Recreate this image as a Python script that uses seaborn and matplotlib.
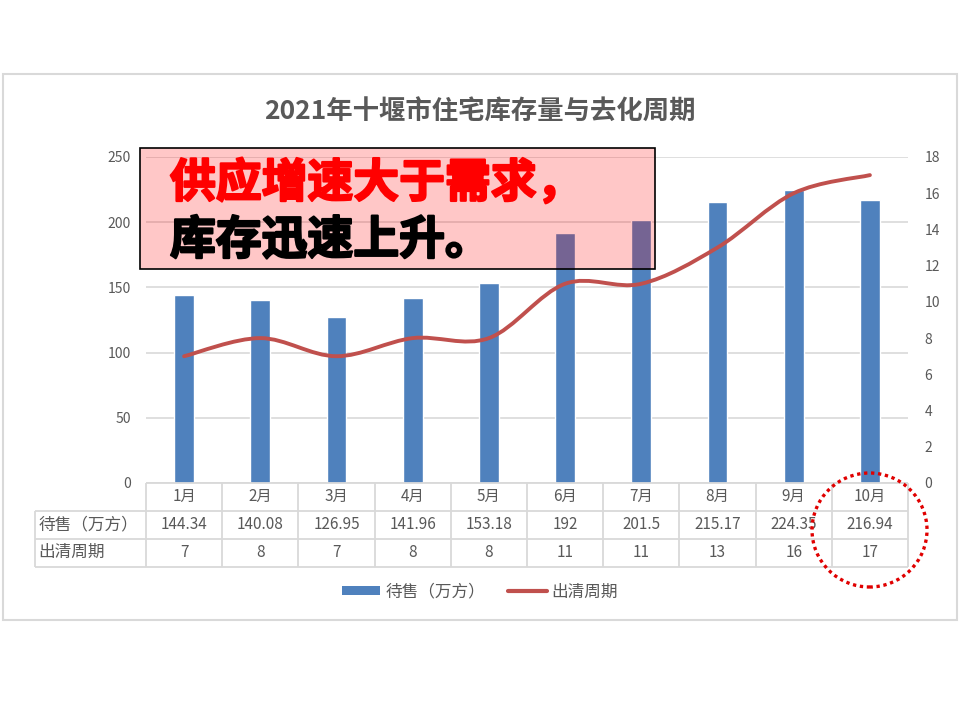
import numpy as np
import pandas as pd
import seaborn as sns
import matplotlib.pyplot as plt
import matplotlib.patheffects as pe
from matplotlib.path import Path
from matplotlib.patches import PathPatch, Patch, Rectangle, Ellipse
from matplotlib.lines import Line2D

sns.set_style("white")
plt.rcParams['font.family'] = ['Noto Sans CJK SC', 'DejaVu Sans']

# data
months = ["1月", "2月", "3月", "4月", "5月", "6月", "7月", "8月", "9月", "10月"]
stock = [144.34, 140.08, 126.95, 141.96, 153.18, 192, 201.5, 215.17, 224.35, 216.94]
cycle = [7, 8, 7, 8, 8, 11, 11, 13, 16, 17]
row_names = ["待售（万方）", "出清周期"]

df = pd.DataFrame({"month": months, "stock": stock, "cycle": cycle})

BLUE = "#4F81BD"
RED = "#C0504D"
GREY = "#595959"
GRID = "#D9D9D9"

W, H = 960, 720
fig = plt.figure(figsize=(9.6, 7.2), dpi=100)

def px(x0, y0, x1, y1):
    return [x0 / W, 1 - y1 / H, (x1 - x0) / W, (y1 - y0) / H]

ax = fig.add_axes(px(146, 157, 908, 483))
sns.barplot(data=df, x="month", y="stock", color=BLUE, width=0.26,
            saturation=1, ax=ax, zorder=2)
ax.set_xlim(-0.5, 9.5)
ax.set_ylim(0, 250)
ax.set_yticks(range(0, 251, 50))
ax.yaxis.grid(True, color=GRID, lw=1.2, zorder=0)
ax.set_axisbelow(True)
ax.set_xlabel("")
ax.set_ylabel("")
ax.set_xticks([])
ax.tick_params(axis="y", length=0, pad=11, labelsize=10, labelcolor=GREY)
for s in ax.spines.values():
    s.set_visible(False)

# secondary axis with smoothed line
ax2 = ax.twinx()
ax2.set_ylim(0, 18)
ax2.set_yticks(range(0, 19, 2))
ax2.tick_params(axis="y", length=0, pad=12, labelsize=10, labelcolor=GREY)
for s in ax2.spines.values():
    s.set_visible(False)

xs = np.arange(len(cycle), dtype=float)
ys = np.array(cycle, dtype=float)
P = np.column_stack([xs, ys])
Pe = np.vstack([P[0], P, P[-1]])
verts = [tuple(P[0])]
codes = [Path.MOVETO]
for i in range(len(P) - 1):
    p0, p1, p2, p3 = Pe[i], Pe[i + 1], Pe[i + 2], Pe[i + 3]
    c1 = p1 + (p2 - p0) / 6
    c2 = p2 - (p3 - p1) / 6
    verts += [tuple(c1), tuple(c2), tuple(p2)]
    codes += [Path.CURVE4] * 3
ax2.add_patch(PathPatch(Path(verts, codes), fill=False, edgecolor=RED,
                        lw=2.8, capstyle="round", zorder=3))

# data table under the chart
tr = ax.get_xaxis_transform()
ah = 326.0
r = [0, -27.5 / ah, -55.5 / ah, -84 / ah]
hx = -0.5 - 111 / 76.2
lk = dict(color=GRID, lw=1.3, transform=tr, clip_on=False, solid_capstyle="butt")
ax.plot([-0.5, 9.5], [r[0], r[0]], **lk)
for y in r[1:]:
    ax.plot([hx, 9.5], [y, y], **lk)
for k in range(11):
    ax.plot([-0.5 + k, -0.5 + k], [r[0], r[3]], **lk)
ax.plot([hx, hx], [r[1], r[3]], **lk)

tk = dict(transform=tr, clip_on=False, color=GREY, va="center")
for i, m in enumerate(months):
    ax.text(i, (r[0] + r[1]) / 2, m, ha="center", fontsize=11, **tk)
    ax.text(i, (r[1] + r[2]) / 2, f"{stock[i]:g}", ha="center", fontsize=11, **tk)
    ax.text(i, (r[2] + r[3]) / 2, f"{cycle[i]}", ha="center", fontsize=11, **tk)
ax.text(hx + 0.04, (r[1] + r[2]) / 2, row_names[0], ha="left", fontsize=12, **tk)
ax.text(hx + 0.04, (r[2] + r[3]) / 2, row_names[1], ha="left", fontsize=12, **tk)

# title
fig.text(0.5, 1 - 112 / H, "2021年十堰市住宅库存量与去化周期", ha="center",
         va="center", fontsize=19, fontweight="bold", color=GREY)

# legend
handles = [Patch(facecolor=BLUE, edgecolor="none"),
           Line2D([], [], color=RED, lw=3)]
fig.legend(handles, row_names, loc="center", bbox_to_anchor=(0.5, 1 - 592 / H),
           ncol=2, frameon=False, fontsize=12, labelcolor=GREY,
           handlelength=2.3, handleheight=0.5, columnspacing=1.4, handletextpad=0.3)

# chart border
fig.patches.append(Rectangle((3 / W, 1 - 620 / H), 954 / W, 546 / H,
                             transform=fig.transFigure, fill=False,
                             edgecolor=GRID, lw=1.5))

# annotation box
fig.patches.append(Rectangle((140 / W, 1 - 269 / H), 515 / W, 121 / H,
                             transform=fig.transFigure, facecolor=(1, 0, 0, 0.22),
                             edgecolor="black", lw=1.2, zorder=5))
fig.text(170 / W, 1 - 184 / H, "供应增速大于需求，", ha="left", va="center",
         fontsize=33, fontweight="black", color="#FF0000", zorder=6,
         path_effects=[pe.withStroke(linewidth=1.6, foreground="#FF0000")])
fig.text(170 / W, 1 - 241 / H, "库存迅速上升。", ha="left", va="center",
         fontsize=33, fontweight="black", color="black", zorder=6,
         path_effects=[pe.withStroke(linewidth=1.6, foreground="black")])

# dotted highlight circle
fig.patches.append(Ellipse((869.5 / W, 1 - 530 / H), 115 / W, 114 / H,
                           transform=fig.transFigure, fill=False, edgecolor="#E00000",
                           lw=2.4, linestyle=(0, (1, 1.1)), zorder=6))

fig.savefig("out.png", dpi=100)
